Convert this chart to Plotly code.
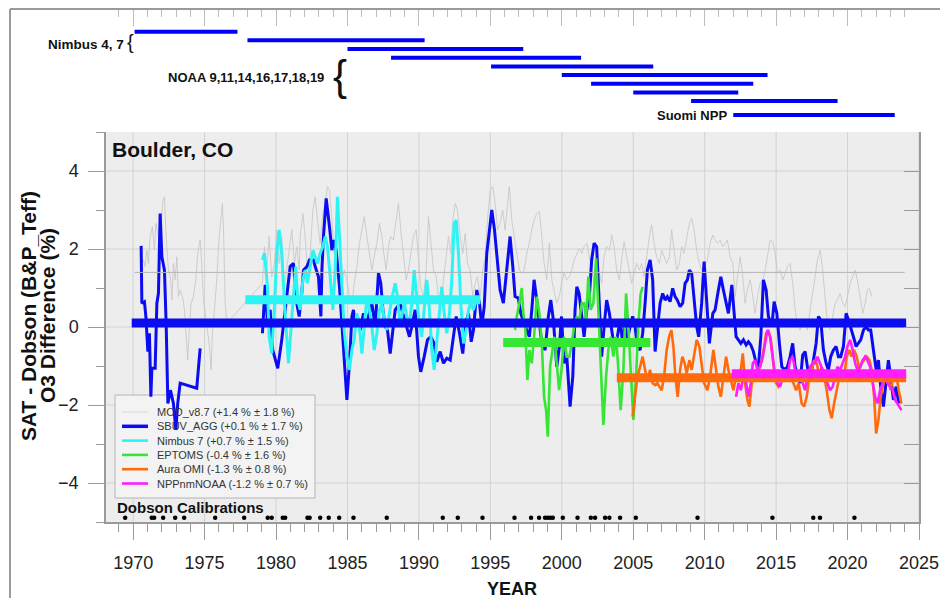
import plotly.graph_objects as go

# ------------------------------------------------------------------ data
# monthly-ish difference series (year, % difference)
mod_v87 = [
    (1970.72, 1.72), (1970.84, 1.55), (1970.96, 1.97), (1971.07, 1.63), (1971.19, 2.32), (1971.35, 2.57),
    (1971.49, 1.97), (1971.59, 2.66), (1971.77, 2.32), (1971.89, 1.89), (1972.05, 3.17), (1972.19, 3.34),
    (1972.31, 2.32), (1972.47, 1.46), (1972.61, 1.29), (1972.71, 0.69), (1972.82, 1.63), (1972.94, 1.21),
    (1973.06, 1.80), (1973.17, 0.78), (1973.29, 0.95), (1973.45, 0.78), (1973.59, 0.44), (1973.71, -0.25),
    (1973.82, -0.85), (1973.94, 0.01), (1974.06, 0.61), (1974.22, 0.78), (1974.38, 1.21), (1974.52, 1.89),
    (1974.69, 2.23), (1974.80, 1.63), (1974.92, 0.69), (1975.04, 0.35), (1975.15, 0.01), (1975.32, -0.42),
    (1975.46, -1.10), (1975.55, -0.08), (1975.69, 0.44), (1975.85, 1.21), (1976.02, 2.32), (1976.16, 2.91),
    (1976.25, 3.17), (1976.34, 2.32), (1976.44, 0.61), (1976.55, 0.09),
    (1979.05, 1.12), (1979.19, 2.06), (1979.35, 1.46), (1979.52, 2.32), (1979.70, 1.29), (1979.89, 1.63),
    (1980.05, 2.49), (1980.22, 1.63), (1980.40, 2.32), (1980.59, 1.03), (1980.75, 1.46), (1980.92, 1.89),
    (1981.10, 2.49), (1981.29, 1.63), (1981.45, 2.06), (1981.62, 1.46), (1981.69, 2.32), (1981.88, 2.91),
    (1982.04, 2.32), (1982.20, 1.46), (1982.39, 1.89), (1982.58, 3.00), (1982.74, 3.34), (1982.90, 2.74),
    (1983.09, 2.15), (1983.28, 2.91), (1983.44, 3.17), (1983.60, 3.60), (1983.74, 3.51), (1983.91, 2.74),
    (1984.07, 1.89), (1984.26, 1.46), (1984.44, 1.21), (1984.61, 1.12), (1984.77, 1.46), (1984.96, 1.21),
    (1985.14, 0.78), (1985.31, 0.61), (1985.47, 1.12), (1985.66, 1.55), (1985.84, 2.15), (1986.01, 2.49),
    (1986.17, 2.83), (1986.36, 2.32), (1986.54, 1.89), (1986.71, 1.46), (1986.87, 1.80), (1987.06, 2.15),
    (1987.24, 2.66), (1987.41, 2.32), (1987.57, 1.80), (1987.71, 1.46), (1987.87, 2.06), (1988.03, 2.32),
    (1988.22, 2.23), (1988.41, 2.74), (1988.57, 3.17), (1988.73, 2.49), (1988.92, 1.89), (1989.11, 1.21),
    (1989.27, 1.46), (1989.43, 1.89), (1989.62, 2.32), (1989.81, 2.49), (1989.97, 1.80), (1990.13, 1.03),
    (1990.32, 0.78), (1990.51, 1.46), (1990.67, 2.83), (1990.83, 2.15), (1991.02, 1.46), (1991.21, 1.29),
    (1991.37, 0.78), (1991.53, 0.61), (1991.72, 1.21), (1991.91, 1.89), (1992.07, 2.32), (1992.23, 1.89),
    (1992.37, 2.74), (1992.54, 3.17), (1992.70, 3.00), (1992.89, 2.32), (1993.07, 1.89), (1993.24, 2.40),
    (1993.40, 1.63), (1993.59, 1.46), (1993.77, 0.78), (1993.94, 1.12), (1994.10, 1.29), (1994.29, 0.78),
    (1994.47, 1.46), (1994.64, 1.80), (1994.80, 2.74), (1994.99, 3.51), (1995.17, 3.60), (1995.34, 3.17),
    (1995.50, 2.49), (1995.68, 2.66), (1995.87, 3.00), (1996.03, 2.49), (1996.19, 3.17), (1996.33, 3.60),
    (1996.50, 2.74), (1996.66, 2.32), (1996.85, 1.80), (1997.03, 1.46), (1997.20, 1.38), (1997.36, 1.46),
    (1997.55, 1.89), (1997.73, 2.15), (1997.90, 2.49), (1998.06, 2.74), (1998.25, 2.91), (1998.43, 2.96),
    (1998.60, 2.32), (1998.76, 1.63), (1998.95, 1.21), (1999.13, 2.15), (1999.30, 1.21), (1999.46, 0.95),
    (1999.65, 0.61), (1999.83, 0.78), (1999.98, 1.12), (2000.16, 1.38), (2000.35, 1.21), (2000.53, 1.29),
    (2000.70, 1.46), (2000.86, 1.72), (2001.05, 1.89), (2001.23, 2.02), (2001.40, 1.89), (2001.56, 2.06),
    (2001.75, 2.15), (2001.93, 1.80), (2002.09, 1.46), (2002.26, 1.12), (2002.44, 1.29), (2002.63, 1.38),
    (2002.79, 1.12), (2002.96, 1.80), (2003.14, 2.06), (2003.33, 1.97), (2003.49, 2.36), (2003.66, 2.06),
    (2003.84, 1.46), (2004.03, 1.21), (2004.19, 1.72), (2004.36, 2.19), (2004.54, 1.80), (2004.73, 1.46),
    (2004.89, 1.12), (2005.06, 1.38), (2005.24, 1.63), (2005.43, 1.46), (2005.59, 1.63), (2005.76, 1.29),
    (2005.94, 1.80), (2006.13, 2.32), (2006.29, 2.62), (2006.46, 2.15), (2006.64, 1.80), (2006.83, 1.63),
    (2006.99, 1.97), (2007.16, 1.80), (2007.34, 1.63), (2007.53, 1.80), (2007.69, 2.49), (2007.86, 1.97),
    (2008.04, 1.46), (2008.23, 1.63), (2008.39, 2.06), (2008.56, 1.89), (2008.74, 2.32), (2008.93, 2.66),
    (2009.09, 2.79), (2009.26, 2.49), (2009.44, 1.97), (2009.63, 1.63), (2009.79, 1.46), (2009.96, 1.55),
    (2010.19, 1.72), (2010.38, 2.15), (2010.57, 2.36), (2010.73, 2.23), (2010.89, 2.15), (2011.08, 2.23),
    (2011.27, 2.06), (2011.43, 2.15), (2011.59, 2.23), (2011.78, 1.80), (2011.97, 1.63), (2012.13, 0.78),
    (2012.29, 1.21), (2012.48, 1.80), (2012.67, 1.29), (2012.83, 0.61), (2012.99, 0.95), (2013.18, 1.21),
    (2013.37, 0.78), (2013.53, 0.35), (2013.69, 0.78), (2013.88, 1.12), (2014.07, 1.21), (2014.23, 1.46),
    (2014.39, 1.80), (2014.58, 2.23), (2014.77, 2.19), (2014.93, 1.89), (2015.09, 1.38), (2015.28, 1.46),
    (2015.47, 1.21), (2015.63, 1.38), (2015.79, 1.55), (2015.98, 1.63), (2016.16, 1.12), (2016.33, 0.44),
    (2016.49, 0.09), (2016.68, -0.08), (2016.86, 0.18), (2017.03, 0.09), (2017.19, -0.08), (2017.38, 0.44),
    (2017.56, 0.95), (2017.73, 1.29), (2017.89, 1.72), (2018.08, 1.97), (2018.26, 1.46), (2018.43, 0.78),
    (2018.59, 0.09), (2018.78, -0.08), (2018.96, 0.27), (2019.13, 0.61), (2019.29, 0.69), (2019.48, 0.86),
    (2019.66, 0.61), (2019.83, 0.52), (2019.99, 0.78), (2020.18, 1.12), (2020.36, 1.29), (2020.53, 1.46),
    (2020.69, 1.21), (2020.88, 0.78), (2021.06, 0.35), (2021.23, 0.61), (2021.39, 0.95), (2021.53, 0.99),
    (2021.69, 0.78),
]

sbuv_agg = [
    (1970.56, 2.08), (1970.61, 0.61), (1970.79, 0.65), (1970.89, 0.27), (1971.03, -0.63), (1971.14, -0.16),
    (1971.24, -1.79), (1971.31, -1.06), (1971.54, -1.06), (1971.66, 0.61), (1971.77, 0.86), (1971.89, 2.91),
    (1972.01, 1.80), (1972.19, 1.46), (1972.31, 0.09), (1972.43, -1.96), (1972.61, -1.62), (1972.82, -1.96),
    (1972.99, -2.64), (1973.12, -1.96), (1973.29, -1.44), (1974.45, -1.57), (1974.69, -0.55),
    (None, None),
    (1979.05, -0.16), (1979.24, 1.08), (1979.40, 0.09), (1979.59, 0.44), (1979.77, -0.59), (1980.12, -1.06),
    (1980.40, -0.33), (1980.64, 0.44), (1980.99, 1.55), (1981.22, 1.63), (1981.45, 0.61), (1981.62, 0.27),
    (1981.80, 0.86), (1981.92, 1.46), (1982.16, 1.55), (1982.34, 1.72), (1982.62, 1.72), (1982.74, 1.55),
    (1982.97, 1.29), (1983.14, 0.27), (1983.21, 1.46), (1983.32, 2.32), (1983.51, 3.30), (1983.74, 2.57),
    (1983.91, 1.97), (1984.02, 2.23), (1984.21, 1.97), (1984.44, 1.03), (1984.61, 0.09), (1984.77, -0.85),
    (1984.96, -1.87), (1985.14, -0.93), (1985.31, 0.27), (1985.42, 0.44), (1985.54, 0.01), (1985.70, 0.27),
    (1985.89, -0.08), (1986.12, 0.35), (1986.31, 0.01), (1986.47, 0.27), (1986.71, 0.61), (1986.94, 0.01),
    (1987.17, 1.38), (1987.33, 1.12), (1987.48, 0.44), (1987.64, 0.01), (1987.80, -0.08), (1987.99, -0.68),
    (1988.17, -0.08), (1988.34, 0.44), (1988.50, 0.52), (1988.69, 0.61), (1988.87, 0.35), (1989.11, 0.01),
    (1989.34, -0.25), (1989.50, 0.01), (1989.74, 0.44), (1989.97, -0.76), (1990.13, -1.15), (1990.37, -0.76),
    (1990.60, -0.33), (1990.83, -0.25), (1991.07, -0.42), (1991.25, -0.89), (1991.49, -0.63), (1991.72, -0.93),
    (1991.95, -0.80), (1992.19, -0.85), (1992.37, -0.42), (1992.61, 0.27), (1992.84, -0.16), (1993.07, -0.68),
    (1993.26, 0.09), (1993.47, 0.35), (1993.66, -0.38), (1993.82, -0.08), (1994.05, 0.95), (1994.24, 0.61),
    (1994.40, 0.01), (1994.57, 0.52), (1994.75, 1.89), (1994.94, 2.49), (1995.10, 3.00), (1995.29, 2.49),
    (1995.50, 1.72), (1995.68, 0.95), (1995.91, 0.61), (1996.15, 1.46), (1996.38, 2.32), (1996.57, 1.55),
    (1996.73, 0.78), (1996.96, 0.74), (1997.13, 0.35), (1997.36, 0.09), (1997.55, -0.08), (1997.73, -0.25),
    (1997.90, 0.44), (1998.06, 1.21), (1998.25, 0.69), (1998.43, 0.09), (1998.60, -0.42), (1998.83, -0.59),
    (1999.06, 0.27), (1999.23, 0.69), (1999.41, 0.18), (1999.65, -1.02), (1999.83, -0.50), (1999.98, 0.27),
    (2000.16, -0.93), (2000.35, -0.76), (2000.58, -2.04), (2000.77, -1.27), (2000.93, 0.44), (2001.05, 1.03),
    (2001.21, 0.86), (2001.40, 0.27), (2001.56, -0.25), (2001.75, 0.44), (2001.93, 0.78), (2002.09, 1.72),
    (2002.26, 2.15), (2002.44, 2.06), (2002.63, 0.27), (2002.79, -0.76), (2002.96, 0.01), (2003.14, 0.69),
    (2003.33, 0.35), (2003.56, -0.25), (2003.73, -0.50), (2003.89, -0.25), (2004.08, 0.18), (2004.26, -0.42),
    (2004.43, 0.09), (2004.59, -0.33), (2004.78, 0.01), (2004.96, 0.27), (2005.13, 0.01), (2005.29, -0.50),
    (2005.48, -0.59), (2005.66, -0.16), (2005.83, 0.61), (2005.99, 1.46), (2006.18, 1.72), (2006.36, 1.21),
    (2006.53, -0.63), (2006.69, -0.08), (2006.88, 0.61), (2007.06, 0.86), (2007.23, 0.69), (2007.39, 0.78),
    (2007.58, 0.65), (2007.76, 0.99), (2007.93, 0.78), (2008.09, 0.69), (2008.28, 0.52), (2008.46, 0.61),
    (2008.63, 1.12), (2008.79, 1.21), (2008.93, 1.46), (2009.09, 1.38), (2009.26, 0.69), (2009.44, 0.01),
    (2009.58, -0.25), (2009.79, 0.61), (2009.96, 1.68), (2010.15, 0.61), (2010.33, -0.42), (2010.57, 0.35),
    (2010.73, 0.44), (2010.96, 0.95), (2011.13, 1.29), (2011.31, 0.95), (2011.50, 0.61), (2011.66, 0.35),
    (2011.90, 1.08), (2012.01, 0.61), (2012.20, -0.25), (2012.36, -0.33), (2012.53, -0.42), (2012.71, -0.33),
    (2012.90, -0.46), (2013.06, -0.38), (2013.23, -0.46), (2013.41, -0.63), (2013.60, -0.93), (2013.76, -1.02),
    (2013.93, -0.25), (2014.11, 1.21), (2014.30, 0.95), (2014.46, 0.27), (2014.70, 0.01), (2014.86, 0.65),
    (2015.05, 0.35), (2015.23, -0.42), (2015.40, -1.02), (2015.63, -1.10), (2015.79, -1.02), (2015.98, -0.76),
    (2016.16, -0.42), (2016.33, -1.02), (2016.49, -1.19), (2016.68, -1.44), (2016.86, -0.72), (2017.03, -0.63),
    (2017.19, -1.02), (2017.38, -1.36), (2017.61, -0.85), (2017.80, -0.42), (2017.96, 0.27), (2018.12, 0.18),
    (2018.31, -0.59), (2018.50, -0.93), (2018.66, -1.10), (2018.82, -0.76), (2019.01, -0.59), (2019.20, -0.50),
    (2019.36, -0.76), (2019.52, -0.76), (2019.71, -0.50), (2019.90, 0.35), (2020.06, 0.18), (2020.22, 0.01),
    (2020.41, -0.25), (2020.60, -0.50), (2020.76, -0.42), (2020.92, -0.33), (2021.11, -0.08), (2021.30, 0.01),
    (2021.46, -0.08), (2021.62, -0.08), (2021.81, -0.59), (2022.00, -1.10), (2022.16, -0.85), (2022.32, -1.53),
    (2022.51, -2.04), (2022.70, -1.44), (2022.86, -0.85), (2023.02, -1.27), (2023.21, -1.87), (2023.40, -1.53),
    (2023.58, -1.96),
]

nimbus7 = [
    (1979.05, 1.72), (1979.19, 1.89), (1979.28, 1.55), (1979.40, 1.03), (1979.52, -0.25), (1979.70, -0.68),
    (1979.89, 0.52), (1980.05, 1.89), (1980.22, 2.49), (1980.40, 1.89), (1980.59, 0.61), (1980.75, -0.42),
    (1980.87, -0.93), (1981.06, 0.01), (1981.22, 0.86), (1981.38, 1.55), (1981.52, 0.69), (1981.69, 0.44),
    (1981.88, 1.21), (1982.04, 1.46), (1982.20, 1.12), (1982.39, 1.55), (1982.58, 1.97), (1982.74, 1.80),
    (1982.90, 1.63), (1983.09, 1.89), (1983.28, 2.06), (1983.44, 2.32), (1983.60, 2.06), (1983.79, 1.29),
    (1983.98, 0.44), (1984.14, 1.46), (1984.30, 3.34), (1984.44, 2.32), (1984.61, 1.03), (1984.77, -0.08),
    (1984.96, -0.76), (1985.14, -1.10), (1985.31, -0.59), (1985.47, -0.33), (1985.66, 0.35), (1985.84, 0.01),
    (1986.01, -0.68), (1986.17, 0.01), (1986.36, 0.78), (1986.54, 0.44), (1986.71, 0.01), (1986.87, -0.59),
    (1987.06, -0.16), (1987.24, 0.44), (1987.41, 0.61), (1987.57, 0.18), (1987.75, -0.08), (1987.94, 0.35),
    (1988.13, 0.78), (1988.34, 1.12), (1988.50, 0.78), (1988.69, 0.01), (1988.83, 0.35), (1988.99, 0.61),
    (1989.15, 0.27), (1989.34, 0.09), (1989.50, 0.61), (1989.67, 1.46), (1989.85, 0.78), (1990.04, 0.01),
    (1990.20, -0.25), (1990.37, 0.44), (1990.55, 1.21), (1990.74, 0.44), (1990.90, -0.59), (1991.07, -1.10),
    (1991.25, -0.42), (1991.44, 0.35), (1991.60, 1.03), (1991.77, 0.35), (1991.95, -0.16), (1992.14, 0.35),
    (1992.30, 1.21), (1992.47, 2.66), (1992.61, 2.74), (1992.77, 1.89), (1992.93, 0.61), (1993.12, -0.42),
    (1993.31, -0.08), (1993.47, 0.44), (1993.63, 0.61), (1993.82, 0.44), (1994.01, 0.69),
]

eptoms = [
    (1996.73, -0.08), (1996.85, 0.27), (1997.03, 0.61), (1997.20, 1.00), (1997.31, 0.35), (1997.45, -0.08),
    (1997.59, -1.36), (1997.73, -0.59), (1997.90, -0.93), (1998.06, -0.25), (1998.25, 0.78), (1998.43, 0.35),
    (1998.60, -0.42), (1998.76, -1.79), (1998.90, -2.13), (1999.02, -2.81), (1999.18, -1.02), (1999.34, -0.59),
    (1999.48, -0.25), (1999.65, -0.93), (1999.81, -1.62), (1999.98, -1.10), (2000.16, -0.25), (2000.35, -0.76),
    (2000.53, -0.76), (2000.70, -0.42), (2000.86, 0.01), (2001.05, 0.27), (2001.23, 0.18), (2001.40, 0.61),
    (2001.56, 0.61), (2001.70, 0.18), (2001.86, 1.29), (2002.02, 0.44), (2002.21, 0.61), (2002.40, 1.76),
    (2002.56, 0.18), (2002.72, -0.93), (2002.91, -2.51), (2003.10, -1.27), (2003.26, -0.59), (2003.42, -0.25),
    (2003.61, -0.76), (2003.80, -0.25), (2003.96, -1.10), (2004.12, -2.13), (2004.31, -1.10), (2004.50, 0.86),
    (2004.66, 0.01), (2004.82, -1.27), (2005.01, -2.38), (2005.20, -1.27), (2005.36, 0.09), (2005.52, 0.86),
    (2005.66, 1.03),
]

aura_omi = [
    (2004.96, -2.30), (2005.13, -1.79), (2005.29, -1.27), (2005.48, -1.02), (2005.66, -0.76), (2005.83, -1.10),
    (2005.99, -1.36), (2006.18, -1.10), (2006.36, -1.44), (2006.53, -1.49), (2006.69, -1.44), (2006.83, -1.53),
    (2006.99, -1.62), (2007.16, -1.27), (2007.34, -0.59), (2007.51, -0.25), (2007.67, -0.08), (2007.81, -0.50),
    (2007.95, -1.27), (2008.11, -1.79), (2008.28, -1.10), (2008.44, -0.76), (2008.60, -0.93), (2008.74, -1.19),
    (2008.93, -0.85), (2009.09, -1.10), (2009.26, -0.76), (2009.44, -0.33), (2009.63, -0.50), (2009.79, -1.02),
    (2009.96, -1.44), (2010.19, -1.62), (2010.38, -1.27), (2010.61, -0.59), (2010.80, -1.10), (2010.96, -1.53),
    (2011.13, -1.79), (2011.31, -1.27), (2011.50, -0.76), (2011.66, -1.10), (2011.83, -1.36), (2012.01, -1.62),
    (2012.20, -1.27), (2012.36, -1.19), (2012.53, -1.10), (2012.67, -0.68), (2012.83, -1.44), (2012.99, -1.87),
    (2013.13, -2.04), (2013.30, -1.44), (2013.46, -1.10), (2013.65, -1.27), (2013.83, -1.02), (2014.00, -0.85),
    (2014.16, -0.50), (2014.30, -0.16), (2014.46, -0.08), (2014.63, -0.33), (2014.81, -0.93), (2015.00, -1.44),
    (2015.16, -1.53), (2015.33, -1.44), (2015.51, -1.27), (2015.70, -1.10), (2015.86, -1.27), (2016.02, -1.19),
    (2016.21, -1.44), (2016.40, -1.62), (2016.58, -1.44), (2016.79, -1.96), (2016.96, -2.04), (2017.14, -1.79),
    (2017.33, -1.27), (2017.49, -1.10), (2017.66, -0.85), (2017.84, -0.93), (2018.03, -1.27), (2018.19, -1.02),
    (2018.36, -1.27), (2018.54, -1.62), (2018.73, -2.13), (2018.89, -2.34), (2019.06, -1.96), (2019.24, -1.62),
    (2019.43, -1.27), (2019.59, -1.10), (2019.76, -1.27), (2019.94, -0.76), (2020.13, -0.59), (2020.29, -0.76),
    (2020.46, -0.59), (2020.64, -0.76), (2020.83, -1.10), (2020.99, -0.93), (2021.16, -0.85), (2021.34, -0.76),
    (2021.53, -0.85), (2021.69, -1.10), (2021.86, -1.79), (2022.00, -2.73), (2022.16, -2.38), (2022.32, -1.79),
    (2022.51, -1.44), (2022.70, -1.27), (2022.86, -1.36), (2023.02, -1.62), (2023.21, -1.27), (2023.40, -1.19),
    (2023.58, -1.62), (2023.77, -1.96),
]

npp_nm_noaa = [
    (2012.20, -1.79), (2012.36, -1.44), (2012.53, -1.62), (2012.71, -1.27), (2012.90, -1.44), (2013.06, -1.79),
    (2013.23, -1.44), (2013.37, -0.93), (2013.53, -0.85), (2013.69, -1.10), (2013.88, -1.02), (2014.07, -0.76),
    (2014.23, -0.42), (2014.39, -0.08), (2014.58, -0.25), (2014.77, -0.76), (2014.93, -1.27), (2015.09, -1.44),
    (2015.28, -1.53), (2015.47, -1.27), (2015.63, -1.10), (2015.79, -1.27), (2015.98, -0.85), (2016.16, -0.76),
    (2016.33, -1.10), (2016.49, -1.27), (2016.68, -1.19), (2016.86, -1.44), (2017.03, -1.62), (2017.19, -1.27),
    (2017.38, -1.02), (2017.56, -0.93), (2017.73, -0.93), (2017.89, -0.76), (2018.08, -0.93), (2018.26, -1.10),
    (2018.43, -1.27), (2018.59, -1.44), (2018.78, -1.62), (2018.96, -1.53), (2019.13, -1.27), (2019.29, -1.02),
    (2019.48, -1.10), (2019.66, -0.93), (2019.83, -0.76), (2019.99, -0.50), (2020.18, -0.33), (2020.36, -0.59),
    (2020.53, -0.93), (2020.69, -1.10), (2020.88, -1.02), (2021.06, -0.85), (2021.23, -0.76), (2021.39, -0.85),
    (2021.58, -1.02), (2021.76, -1.44), (2021.93, -1.79), (2022.09, -1.96), (2022.28, -1.62), (2022.46, -1.44),
    (2022.63, -1.27), (2022.79, -1.44), (2022.98, -1.53), (2023.16, -1.62), (2023.33, -1.87), (2023.49, -1.96),
    (2023.63, -2.04), (2023.77, -2.13),
]

# mean offsets (%) and the period each mean bar covers
series_names = ["MOD_v8.7", "SBUV_AGG", "Nimbus 7", "EPTOMS", "Aura OMI", "NPPnmNOAA"]
series_colors = ["#c4c4c4", "#0c0cf0", "#2cf4f4", "#35e635", "#ff6a0a", "#ff1cff"]
mean_vals = [1.4, 0.1, 0.7, -0.4, -1.3, -1.2]
sd_vals = [1.8, 1.7, 1.5, 1.6, 0.8, 0.7]
mean_start = [1970.1, 1969.9, 1977.85, 1995.9, 2003.85, 2011.9]
mean_end = [2024.0, 2024.1, 1994.3, 2006.2, 2024.1, 2024.1]

# Dobson instrument calibration dates
dobson_cal_years = [
    1969.44, 1971.30, 1971.47, 1972.10, 1972.94, 1973.57, 1975.74, 1977.77, 1979.42, 1979.70,
    1980.47, 1980.64, 1982.20, 1982.35, 1983.09, 1983.69, 1984.42, 1985.42, 1987.75, 1991.67,
    1992.72, 1994.45, 1996.69, 1997.85, 1998.41, 1998.83, 1999.02, 1999.20, 1999.37, 2000.07,
    2001.10, 2002.03, 2002.33, 2003.03, 2003.33, 2004.08, 2005.18, 2009.50, 2014.74, 2017.60,
    2018.07, 2020.48,
]
dobson_cal_level = -4.89

# satellite operating periods (top panel)
sat_start = [1970.1, 1978.0, 1985.0, 1988.05, 1995.05, 2000.0, 2002.05, 2005.0, 2009.05, 2012.0]
sat_end = [1977.3, 1990.4, 1997.3, 2001.35, 2006.4, 2014.4, 2013.4, 2012.35, 2019.3, 2023.3]
sat_row = [0, 1, 2, 3, 4, 5, 6, 7, 8, 9.6]

x_tick_vals = [1970, 1975, 1980, 1985, 1990, 1995, 2000, 2005, 2010, 2015, 2020, 2025]
y_tick_vals = [-4, -2, 0, 2, 4]

# ------------------------------------------------------------------ layout helpers
W, H = 940, 598
ML, MR, MT, MB = 106, 21, 9, 76
PW = W - ML - MR
PH = H - MT - MB
MAIN_TOP = 132


def px(X):
    return (X - ML) / PW


def py(Y):
    return (H - MB - Y) / PH


def yd(Y):  # main subplot domain fraction
    return (H - MB - Y) / (H - MB - MAIN_TOP)


FONT = "Arial, Liberation Sans, Helvetica, sans-serif"
AX = "#9a9a9a"
GRID = "#d2d2d2"

fig = go.Figure()


def split(pairs):
    return [p[0] for p in pairs], [p[1] for p in pairs]


series_data = [mod_v87, sbuv_agg, nimbus7, eptoms, aura_omi, npp_nm_noaa]
series_widths = [0.8, 3, 3, 2.6, 2.6, 2.6]

for name, data, col, w in zip(series_names, series_data, series_colors, series_widths):
    xs, ys = split(data)
    fig.add_trace(go.Scatter(x=xs, y=ys, mode="lines", name=name, connectgaps=False,
                             line=dict(color=col, width=w), showlegend=False,
                             xaxis="x", yaxis="y"))

# mean bars
for i, (name, m, a, b, col) in enumerate(zip(series_names, mean_vals, mean_start, mean_end, series_colors)):
    if i == 0:
        fig.add_trace(go.Scatter(x=[a, b], y=[m, m], mode="lines", showlegend=False,
                                 line=dict(color="#b5b5b5", width=1), xaxis="x", yaxis="y"))
    else:
        fig.add_trace(go.Scatter(x=[a, b], y=[m, m], mode="lines", showlegend=False,
                                 line=dict(color=col, width=9), xaxis="x", yaxis="y"))

# Dobson calibration markers (on the right-hand overlay axis, same range)
fig.add_trace(go.Scatter(x=dobson_cal_years, y=[dobson_cal_level] * len(dobson_cal_years),
                         mode="markers", marker=dict(color="black", size=4.5),
                         showlegend=False, xaxis="x", yaxis="y3"))

# satellite periods
for a, b, r in zip(sat_start, sat_end, sat_row):
    fig.add_trace(go.Scatter(x=[a, b], y=[r, r], mode="lines", showlegend=False,
                             line=dict(color="#0000f5", width=4), xaxis="x2", yaxis="y2"))

main_dom_top = py(MAIN_TOP)
top_dom_bot = py(125)
row_px0, row_step = 31.7, 8.67
y2_range = [(125 - row_px0) / row_step, (MT - row_px0) / row_step]

tickfont = dict(family=FONT, size=18, color="#222222")

fig.update_layout(
    template="none",
    width=W, height=H,
    autosize=False,
    margin=dict(l=ML, r=MR, t=MT, b=MB, pad=0, autoexpand=False),
    paper_bgcolor="white",
    plot_bgcolor="#ededed",
    showlegend=False,
    font=dict(family=FONT),
    xaxis=dict(domain=[0, 1], range=[1968.1, 2025], anchor="y", automargin=False,
               tickvals=x_tick_vals, ticks="outside", ticklen=16, tickcolor=AX, tickwidth=1,
               minor=dict(dtick=1, tick0=1970, ticks="outside", ticklen=8, tickcolor=AX, showgrid=False),
               showgrid=False, showline=True, linecolor=AX, linewidth=1.5, zeroline=False,
               tickfont=tickfont, ticklabelstandoff=8),
    yaxis=dict(domain=[0, main_dom_top], range=[-5, 5], anchor="x", automargin=False,
               tickvals=y_tick_vals, ticks="outside", ticklen=16, tickcolor=AX,
               minor=dict(dtick=1, tick0=-5, ticks="outside", ticklen=8, tickcolor=AX, showgrid=False),
               showgrid=False, showline=True, linecolor=AX, linewidth=1.5, zeroline=False,
               tickfont=tickfont, ticklabelstandoff=6),
    yaxis3=dict(overlaying="y", side="right", anchor="x", range=[-5, 5], automargin=False,
                tick0=-5, dtick=1, ticks="inside", ticklen=15, tickcolor=AX,
                showticklabels=False, showgrid=False, zeroline=False,
                showline=True, linecolor=AX, linewidth=1.5),
    xaxis2=dict(domain=[0, 1], range=[1968.1, 2025], anchor="y2", side="top", automargin=False,
                tickvals=x_tick_vals, ticks="inside", ticklen=17, tickcolor="#bdbdbd", tickwidth=1,
                minor=dict(dtick=1, tick0=1970, ticks="inside", ticklen=8, tickcolor="#bdbdbd", showgrid=False),
                showticklabels=False, showgrid=False, showline=False, zeroline=False),
    yaxis2=dict(domain=[top_dom_bot, 1], range=y2_range, anchor="x2", automargin=False,
                showticklabels=False, showgrid=False, showline=False, zeroline=False, ticks=""),
)

shapes = [
    # white background for the top (satellite) panel
    dict(type="rect", xref="x2 domain", yref="y2 domain", x0=0, x1=1, y0=0, y1=1,
         fillcolor="white", line=dict(width=0), layer="below"),
    # outer frame lines
    dict(type="line", xref="paper", yref="paper", x0=px(10), x1=px(940), y0=1, y1=1,
         line=dict(color="#9a9a9a", width=2)),
    dict(type="line", xref="paper", yref="paper", x0=px(10), x1=px(10), y0=1, y1=py(598),
         line=dict(color="#9a9a9a", width=2)),
]
# grid lines of the main panel (under the legend box and the data)
for xv in x_tick_vals:
    shapes.append(dict(type="line", xref="x", yref="y domain", x0=xv, x1=xv, y0=0, y1=1,
                       line=dict(color=GRID, width=1), layer="below"))
for yv in y_tick_vals:
    shapes.append(dict(type="line", xref="x domain", yref="y", x0=0, x1=1, y0=yv, y1=yv,
                       line=dict(color=GRID, width=1), layer="below"))
# legend box
shapes.append(dict(type="rect", xref="x domain", yref="y domain", x0=px(115), x1=px(315),
                   y0=yd(498), y1=yd(395), fillcolor="#f3f3f3",
                   line=dict(color="#b4b4b4", width=1), layer="below"))

annotations = []
leg_y0, leg_dy = 412, 14.3
for i, (name, m, s, col) in enumerate(zip(series_names, mean_vals, sd_vals, series_colors)):
    yy = leg_y0 + leg_dy * i
    lw = 1 if i == 0 else (3.5 if i == 1 else 2.6)
    lc = "#dadada" if i == 0 else col
    shapes.append(dict(type="line", xref="x domain", yref="y domain", x0=px(122), x1=px(148),
                       y0=yd(yy), y1=yd(yy), line=dict(color=lc, width=lw), layer="below"))
    label = f"{name} ({m:+.1f} % ± {s:.1f} %)"
    annotations.append(dict(text=label, xref="paper", yref="paper", x=px(155), y=py(yy),
                            xanchor="left", yanchor="middle", showarrow=False,
                            font=dict(family=FONT, size=11, color="#333333")))

fig.update_layout(shapes=shapes)


def txt(t, X, Y, size, xanchor="left", bold=True, angle=0, color="#111111"):
    annotations.append(dict(text=f"<b>{t}</b>" if bold else t, xref="paper", yref="paper",
                            x=px(X), y=py(Y), xanchor=xanchor, yanchor="middle", showarrow=False,
                            textangle=angle, font=dict(family=FONT, size=size, color=color)))


txt("Boulder, CO", 110, 149, 21)
txt("Dobson Calibrations", 115, 507, 15)
txt("SAT - Dobson (B&P_Teff)", 28, 316, 21, xanchor="center", angle=-90)
txt("O3 Difference (%)", 47, 316, 21, xanchor="center", angle=-90)
txt("YEAR", 512, 589, 18, xanchor="center")
txt("Nimbus 4, 7", 126, 44, 13.5, xanchor="right")
txt("{", 130.5, 42, 20, xanchor="center", bold=False)
txt("NOAA 9,11,14,16,17,18,19", 326, 77, 13, xanchor="right")
txt("{", 340, 75, 42, xanchor="center", bold=False)
txt("Suomi NPP", 729, 115, 13, xanchor="right")

fig.update_layout(annotations=annotations)

fig.write_html("out.html")
